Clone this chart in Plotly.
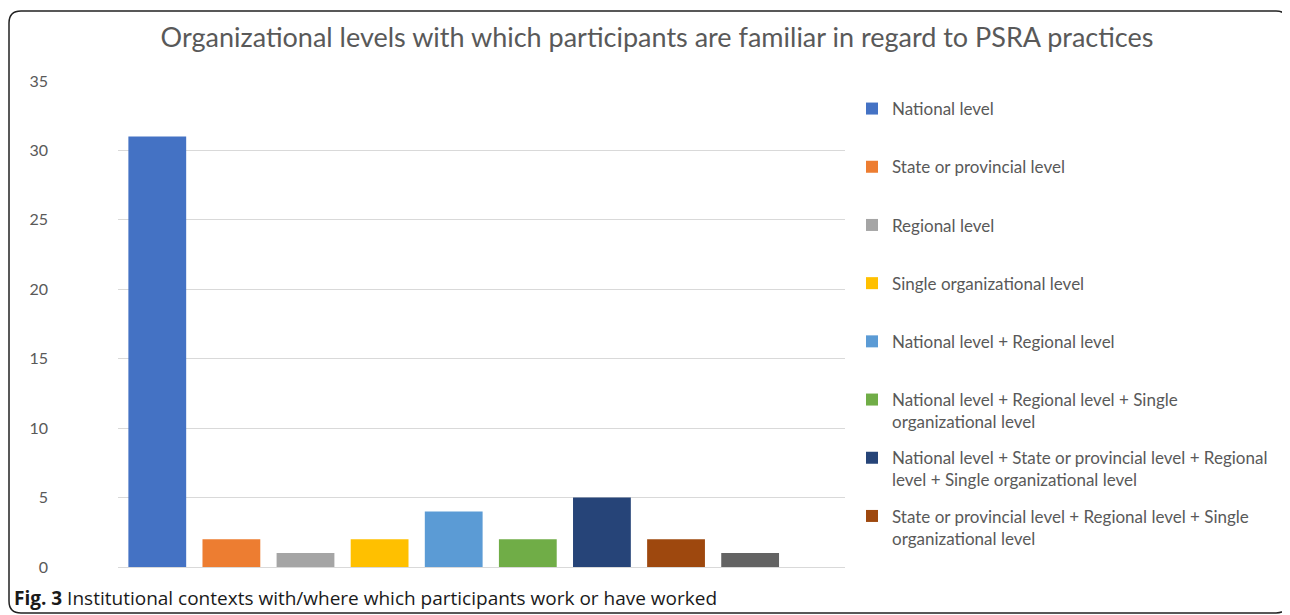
import plotly.graph_objects as go

categories = [
    "National level",
    "State or provincial level",
    "Regional level",
    "Single organizational level",
    "National level + Regional level",
    "National level + Regional level + Single organizational level",
    "National level + State or provincial level + Regional level + Single organizational level",
    "State or provincial level + Regional level + Single organizational level",
    "Other combination",
]
legend_labels = [
    "National level<br> ",
    "State or provincial level<br> ",
    "Regional level<br> ",
    "Single organizational level<br> ",
    "National level + Regional level<br> ",
    "National level + Regional level + Single<br>organizational level",
    "National level + State or provincial level + Regional<br>level + Single organizational level",
    "State or provincial level + Regional level + Single<br>organizational level",
    "Other combination",
]
values = [31, 2, 1, 2, 4, 2, 5, 2, 1]
colors = ["#4472C4", "#ED7D31", "#A5A5A5", "#FFC000", "#5B9BD5",
          "#70AD47", "#264478", "#9E480E", "#636363"]
show_in_legend = [True] * 8 + [False]

# page has an 8px body margin, so the figure is 8px smaller and coordinates are shifted
OFF = 8
W, H = 1290 - OFF, 615 - OFF
L, R, T, B = 118 - OFF, 445, 81 - OFF, 48
pw, ph = W - L - R, H - T - B

def px_x(p):
    return (p - OFF - L) / pw

def px_y(p):
    return (H - B - (p - OFF)) / ph

fig = go.Figure()
for i, (c, v) in enumerate(zip(categories, values)):
    fig.add_trace(go.Bar(
        x=[c], y=[v], name=legend_labels[i], marker_color=colors[i],
        marker_line_width=0, legendgroup=f"g{i}", showlegend=show_in_legend[i],
    ))

# rounded border (decoration), in screen pixels
x0, x1, y0, y1, r = 9, 1288, 11, 613, 12
path = (f"M {px_x(x0+r)} {px_y(y0)} L {px_x(x1-r)} {px_y(y0)} "
        f"Q {px_x(x1)} {px_y(y0)} {px_x(x1)} {px_y(y0+r)} "
        f"L {px_x(x1)} {px_y(y1-r)} Q {px_x(x1)} {px_y(y1)} {px_x(x1-r)} {px_y(y1)} "
        f"L {px_x(x0+r)} {px_y(y1)} Q {px_x(x0)} {px_y(y1)} {px_x(x0)} {px_y(y1-r)} "
        f"L {px_x(x0)} {px_y(y0+r)} Q {px_x(x0)} {px_y(y0)} {px_x(x0+r)} {px_y(y0)} Z")

fig.update_layout(
    width=W, height=H,
    margin=dict(l=L, r=R, t=T, b=B),
    paper_bgcolor="white", plot_bgcolor="white",
    barmode="overlay", bargap=0.22,
    font=dict(family="Lato, 'Open Sans', sans-serif", color="#595959"),
    title=dict(
        text="Organizational levels with which participants are familiar in regard to PSRA practices",
        x=(657 - OFF) / W, xanchor="center", y=1 - (38 - OFF) / H, yanchor="middle",
        font=dict(size=27, color="#595959", family="Lato, 'Open Sans', sans-serif"),
    ),
    xaxis=dict(
        type="category", categoryorder="array", categoryarray=categories,
        range=[-0.53, 9.28], showticklabels=False, showgrid=False,
        zeroline=False, showline=False, ticks="",
    ),
    yaxis=dict(
        range=[0, 35], dtick=5, showgrid=True, gridcolor="#D9D9D9", gridwidth=1,
        zeroline=True, zerolinecolor="#D9D9D9", zerolinewidth=1, showline=False,
        ticks="", tickfont=dict(size=16, color="#595959"), ticklabelstandoff=69,
    ),
    legend=dict(
        x=px_x(852), xanchor="left", y=px_y(91), yanchor="top",
        font=dict(size=17, color="#595959"), traceorder="grouped",
        tracegroupgap=11, valign="top", bgcolor="rgba(0,0,0,0)",
    ),
    showlegend=True,
    shapes=[dict(type="path", xref="paper", yref="paper", path=path,
                 line=dict(color="#222222", width=1.5), fillcolor="rgba(0,0,0,0)",
                 layer="above")],
    annotations=[dict(
        text="<b>Fig. 3</b> Institutional contexts with/where which participants work or have worked",
        xref="paper", yref="paper", x=px_x(12), y=px_y(598), xanchor="left", yanchor="middle",
        showarrow=False, font=dict(size=19, color="#1a1a1a", family="'Open Sans', sans-serif"),
    )],
)

fig.write_html("out.html")
